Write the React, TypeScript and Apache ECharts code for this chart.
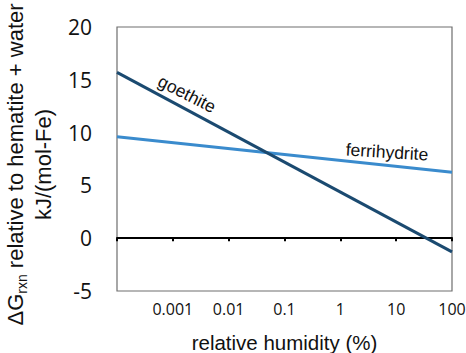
import React, { useEffect, useRef } from "react";
import * as echarts from "echarts";

const humidity = [0.0001, 100];
const goethite = [15.7, -1.3];
const ferrihydrite = [9.6, 6.25];
const xTickValues = [0.001, 0.01, 0.1, 1, 10, 100];
const xTickLabels = ["0.001", "0.01", "0.1", "1", "10", "100"];
const yTicks = [-5, 0, 5, 10, 15, 20];

export default function App() {
  const ref = useRef<HTMLDivElement>(null);
  useEffect(() => {
    const chart = echarts.init(ref.current!, null, { renderer: "svg" });
    const fmtX = (v: number) => {
      const i = xTickValues.findIndex((t) => Math.abs(Math.log10(t) - Math.log10(v)) < 1e-6);
      return i >= 0 ? xTickLabels[i] : "";
    };
    chart.setOption({
      animation: false,
      backgroundColor: "#fff",
      grid: {
        left: 117,
        right: 14,
        top: 27,
        bottom: 62,
        outerBoundsMode: "none",
        containLabel: false,
        show: true,
        borderColor: "#6e6e6e",
        borderWidth: 1.2,
      },
      xAxis: [
        {
          type: "log",
          logBase: 10,
          min: humidity[0],
          max: humidity[humidity.length - 1],
          splitNumber: 6,
          position: "bottom",
          axisLine: { show: false, onZero: false },
          axisTick: { show: false },
          splitLine: { show: false },
          axisLabel: {
            formatter: fmtX,
            color: "#111",
            fontFamily: "Open Sans",
            fontSize: 16,
            margin: 10,
          },
          name: "relative humidity (%)",
          nameLocation: "middle",
          nameGap: 41,
          nameTextStyle: { color: "#111", fontFamily: "Liberation Sans", fontSize: 20.5 },
        },
        {
          type: "log",
          logBase: 10,
          min: humidity[0],
          max: humidity[humidity.length - 1],
          splitNumber: 6,
          position: "bottom",
          axisLine: { show: true, onZero: true, lineStyle: { color: "#000", width: 2 } },
          axisTick: { show: true, length: 3, lineStyle: { color: "#000", width: 2 } },
          splitLine: { show: false },
          axisLabel: { show: false },
        },
      ],
      yAxis: {
        type: "value",
        min: yTicks[0],
        max: yTicks[yTicks.length - 1],
        interval: 5,
        axisLine: { show: false },
        axisTick: { show: false },
        splitLine: { show: false },
        axisLabel: {
          color: "#111",
          fontFamily: "Open Sans",
          fontSize: 21,
          margin: 25,
          padding: [10, 0, 0, 0],
        },
        name: "{a|ΔG}{s|rxn}{a| relative to hematite + water}\n{a|kJ/(mol-Fe)}",
        nameLocation: "middle",
        nameGap: 50,
        nameTextStyle: {
          color: "#111",
          fontFamily: "Liberation Sans",
          fontSize: 22,
          lineHeight: 28,
          padding: [0, 11, 0, 0],
          rich: {
            a: { fontFamily: "Liberation Sans", fontSize: 22, color: "#111", lineHeight: 28 },
            s: { fontFamily: "Liberation Sans", fontSize: 14, color: "#111", verticalAlign: "bottom", lineHeight: 22 },
          },
        },
      },
      series: [
        {
          name: "ferrihydrite",
          type: "line",
          xAxisIndex: 0,
          data: humidity.map((x, i) => [x, ferrihydrite[i]]),
          showSymbol: false,
          lineStyle: { color: "#3a8bcd", width: 3 },
        },
        {
          name: "goethite",
          type: "line",
          xAxisIndex: 0,
          data: humidity.map((x, i) => [x, goethite[i]]),
          showSymbol: false,
          lineStyle: { color: "#1b4a70", width: 3 },
        },
      ],
      graphic: [
        {
          type: "text",
          x: 187,
          y: 94,
          rotation: (-27 * Math.PI) / 180,
          style: {
            text: "goethite",
            fill: "#111",
            font: "17.5px 'Liberation Sans'",
            align: "center",
            verticalAlign: "middle",
          },
        },
        {
          type: "text",
          x: 387,
          y: 152,
          rotation: (-3.5 * Math.PI) / 180,
          style: {
            text: "ferrihydrite",
            fill: "#111",
            font: "17.5px 'Liberation Sans'",
            align: "center",
            verticalAlign: "middle",
          },
        },
      ],
    });
    return () => chart.dispose();
  }, []);
  return <div ref={ref} style={{ width: 466, height: 353, position: "absolute", left: 0, top: 0 }} />;
}
